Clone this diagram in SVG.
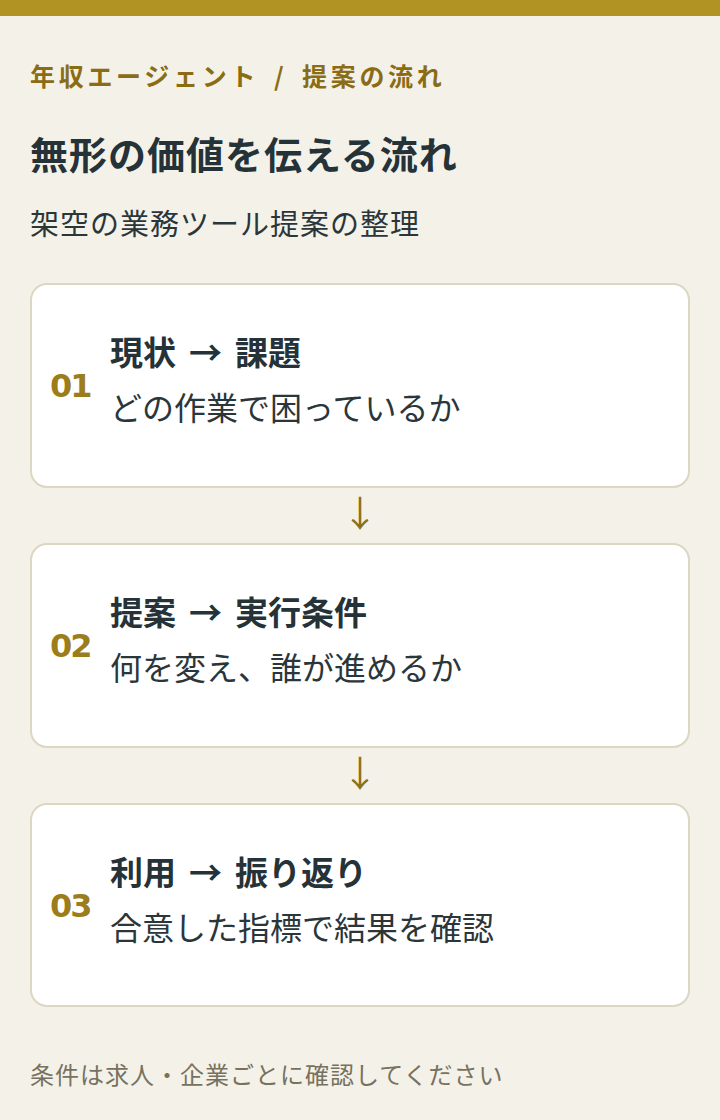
<svg xmlns="http://www.w3.org/2000/svg" width="720" height="1120" viewBox="0 0 720 1120">
<style>
text{font-family:"Noto Sans CJK JP","DejaVu Sans",sans-serif}
.kicker{font-size:25px;font-weight:bold;fill:#8a6c14;letter-spacing:3.7px}
.title{font-size:38px;font-weight:bold;fill:#253238;letter-spacing:1px}
.sub{font-size:29px;fill:#2b363b;letter-spacing:1px}
.card{fill:#ffffff;stroke:#dcd6c2;stroke-width:2}
.num{font-size:32px;font-weight:bold;fill:#9c7d1c;letter-spacing:-2px;font-family:"DejaVu Sans",sans-serif}
.head{font-size:33px;font-weight:bold;fill:#253238}
.ar{font-weight:bold;font-size:33px}
.desc{font-size:32px;fill:#2b363b}
.arrow{font-size:36px;fill:#8c7118;text-anchor:middle}
.foot{font-size:24px;fill:#77715f;letter-spacing:1px}
</style>
<rect x="0" y="0" width="720" height="1120" fill="#f4f1e8"/>
<rect x="0" y="0" width="720" height="16" fill="#b09322"/>
<text class="kicker" y="86"><tspan x="30">年収エージェント</tspan><tspan x="274">/</tspan><tspan x="302">提案の流れ</tspan></text>
<text class="title" x="30" y="169">無形の価値を伝える流れ</text>
<text class="sub" x="30" y="235">架空の業務ツール提案の整理</text>
<g id="connectors">
<text class="arrow" x="360" y="527">↓</text>
<text class="arrow" x="360" y="787">↓</text>
</g>
<g id="step1">
<rect class="card" x="31" y="284" width="658" height="203" rx="16"/>
<text class="num" x="50" y="397">01</text>
<text class="head" y="365"><tspan x="110">現状</tspan><tspan class="ar" x="189">→</tspan><tspan x="235">課題</tspan></text>
<text class="desc" x="110" y="420">どの作業で困っているか</text>
</g>
<g id="step2">
<rect class="card" x="31" y="544" width="658" height="203" rx="16"/>
<text class="num" x="50" y="657">02</text>
<text class="head" y="625"><tspan x="110">提案</tspan><tspan class="ar" x="189">→</tspan><tspan x="235">実行条件</tspan></text>
<text class="desc" x="110" y="680">何を変え、誰が進めるか</text>
</g>
<g id="step3">
<rect class="card" x="31" y="804" width="658" height="202" rx="16"/>
<text class="num" x="50" y="917">03</text>
<text class="head" y="885"><tspan x="110">利用</tspan><tspan class="ar" x="189">→</tspan><tspan x="235">振り返り</tspan></text>
<text class="desc" x="110" y="940">合意した指標で結果を確認</text>
</g>
<text class="foot" x="30" y="1084">条件は求人・企業ごとに確認してください</text>
</svg>
